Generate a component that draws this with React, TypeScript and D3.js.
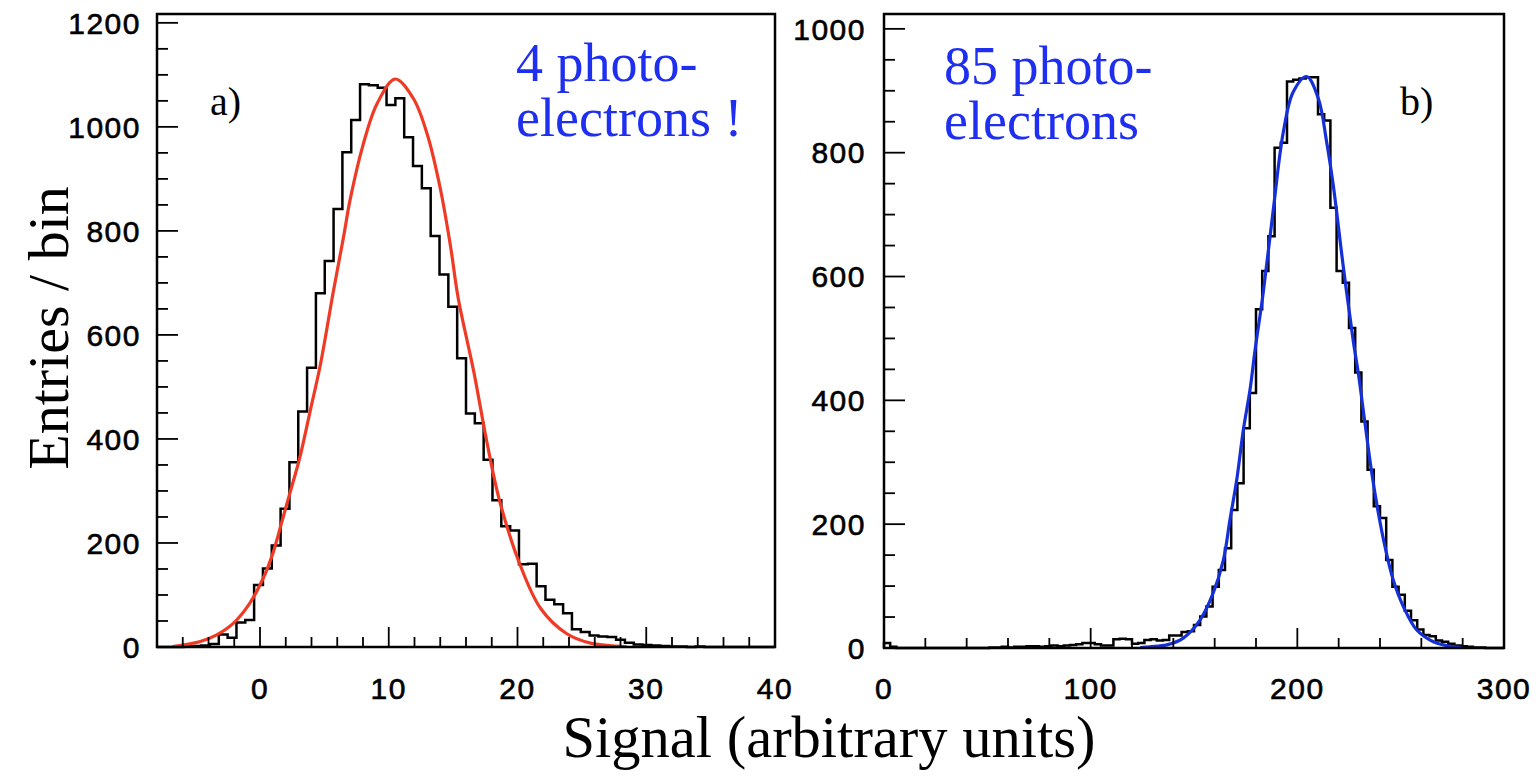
import React from "react";
import * as d3 from "d3";

// ---- Panel a): 4 photo-electrons, 70 bins from -8 to 40 ----
const binsA_range: [number, number] = [-8, 40];
const countsA = [
  0, 0, 0, 1, 2, 3, 6, 24, 18, 47,
  52, 119, 151, 195, 266, 355, 453, 537, 680, 742,
  842, 951, 1013, 1082, 1080, 1075, 1042, 1055, 980, 925,
  882, 790, 716, 654, 555, 449, 430, 360, 282, 232,
  224, 159, 160, 117, 91, 82, 65, 34, 29, 22,
  20, 19, 14, 8, 5, 4, 3, 2, 1, 1,
  0, 1, 0, 0, 0, 0, 0, 0, 0, 0,
];
// Gaussian fit (red) sampled along the curve
const fitA: [number, number][] = [
  [-6.8, 1], [-4.7, 10], [-3.4, 23], [-2.1, 45], [-0.8, 84], [0.3, 135],
  [1.0, 180], [1.8, 250], [2.6, 320], [3.1, 365], [3.9, 454], [4.7, 544],
  [5.7, 684], [6.5, 790], [7.0, 860], [8.0, 965], [9.1, 1045], [10.5, 1092],
  [11.9, 1055], [13.0, 985], [14.0, 882], [14.8, 770], [15.4, 670],
  [16.6, 530], [17.6, 397], [18.6, 282], [20.2, 158], [21.8, 74],
  [23.8, 26], [25.6, 8], [28.5, 0.5],
];
const yTicksA = [0, 200, 400, 600, 800, 1000, 1200];
const xTicksA = [0, 10, 20, 30, 40];

// ---- Panel b): 85 photo-electrons, 100 bins from 0 to 300 ----
const binsB_range: [number, number] = [0, 300];
const countsB = [
  8, 2, 0, 0, 0, 0, 0, 0, 0, 0,
  0, 0, 0, 0, 0, 0, 0, 1, 1, 2,
  1, 2, 2, 3, 3, 2, 3, 4, 3, 4,
  5, 6, 8, 8, 6, 4, 4, 14, 15, 14,
  7, 8, 13, 14, 12, 13, 20, 20, 26, 27,
  37, 51, 67, 99, 126, 161, 223, 266, 355, 412,
  547, 609, 665, 808, 816, 915, 918, 920, 922, 922,
  862, 852, 711, 609, 590, 517, 445, 366, 288, 229,
  210, 142, 99, 86, 60, 45, 30, 21, 19, 12,
  10, 7, 4, 3, 2, 1, 1, 0, 0, 0,
];
// Gaussian fit (blue) sampled along the curve
const fitB: [number, number][] = [
  [124, 0.5], [128.7, 2], [136.8, 5], [144.8, 16], [152.9, 45], [159.3, 89],
  [164.2, 142], [167.4, 207], [170.7, 272], [173.9, 353], [177.1, 417],
  [179.5, 480], [183.5, 574], [188.4, 709], [193.2, 833], [198.0, 898],
  [204.5, 923], [210.2, 887], [214.2, 817], [217.4, 747], [222.2, 617],
  [227.1, 495], [229.5, 444], [232.7, 364], [236.0, 283], [239.2, 218],
  [242.4, 164], [246.4, 110], [251.3, 67], [257.8, 29], [265.8, 10],
  [272, 4], [279.5, 0.5],
];
const yTicksB = [0, 200, 400, 600, 800, 1000];
const xTicksB = [0, 100, 200, 300];

const SANS = "'Liberation Sans', Arial, Helvetica, sans-serif";
const SERIF = "'Liberation Serif', 'Times New Roman', Times, serif";
const BLUE = "#1f2ff0";

type PanelProps = {
  left: number; right: number; top: number; bottom: number;
  xDomain: [number, number]; yMax: number;
  counts: number[]; fit: [number, number][]; fitColor: string;
  xLabels: number[]; yLabels: number[];
  xMinorStep: number; xMajorStep: number;
  yMinorStep: number; yMajorStep: number; yTickTop: number;
  labelRight: number;
};

function Panel(p: PanelProps) {
  const x = d3.scaleLinear().domain(p.xDomain).range([p.left, p.right]);
  const y = d3.scaleLinear().domain([0, p.yMax]).range([p.bottom, p.top]);
  const n = p.counts.length;
  const w = (p.xDomain[1] - p.xDomain[0]) / n;

  // Step outline of the histogram
  let hist = `M${x(p.xDomain[0])},${y(0)}`;
  p.counts.forEach((c, i) => {
    hist += `V${y(c)}H${x(p.xDomain[0] + (i + 1) * w)}`;
  });
  hist += `V${y(0)}`;

  const fitPath = d3
    .line<[number, number]>()
    .x((d) => x(d[0]))
    .y((d) => y(d[1]))
    .curve(d3.curveCatmullRom.alpha(0.5))(p.fit) as string;

  const xt: number[] = [];
  for (let v = Math.ceil((p.xDomain[0] + 1e-9) / p.xMinorStep) * p.xMinorStep; v < p.xDomain[1] - 1e-9; v += p.xMinorStep) xt.push(+v.toFixed(6));
  const yt: number[] = [];
  for (let v = p.yMinorStep; v <= p.yTickTop + 1e-9; v += p.yMinorStep) yt.push(v);

  const isMajor = (v: number, step: number) => Math.abs(v / step - Math.round(v / step)) < 1e-6;

  return (
    <g>
      <clipPath id={`clip-${p.left}`}>
        <rect x={p.left} y={p.top} width={p.right - p.left} height={p.bottom - p.top} />
      </clipPath>
      <path d={hist} fill="none" stroke="#000" strokeWidth={2.5} strokeLinejoin="miter" />
      <path d={fitPath} fill="none" stroke={p.fitColor} strokeWidth={3.2} clipPath={`url(#clip-${p.left})`} />
      {/* ticks */}
      {xt.map((v) => {
        const len = isMajor(v, p.xMajorStep) ? 20 : 10;
        return <line key={`xt${v}`} x1={x(v)} x2={x(v)} y1={p.bottom} y2={p.bottom - len} stroke="#000" strokeWidth={1.8} />;
      })}
      {yt.map((v) => {
        const len = isMajor(v, p.yMajorStep) ? 21 : 11;
        return <line key={`yt${v}`} x1={p.left} x2={p.left + len} y1={y(v)} y2={y(v)} stroke="#000" strokeWidth={1.8} />;
      })}
      {/* frame */}
      <rect x={p.left} y={p.top} width={p.right - p.left} height={p.bottom - p.top} fill="none" stroke="#000" strokeWidth={2.5} />
      {/* tick labels */}
      {p.yLabels.map((v) => (
        <text key={`yl${v}`} x={p.labelRight} y={y(v)} dy="0.36em" textAnchor="end" fontFamily={SANS} fontSize={30} letterSpacing={1.5} stroke="#000" strokeWidth={0.6}>
          {v}
        </text>
      ))}
      {p.xLabels.map((v) => (
        <text key={`xl${v}`} x={x(v)} y={699} textAnchor="middle" fontFamily={SANS} fontSize={30} letterSpacing={1.5} stroke="#000" strokeWidth={0.6}>
          {v}
        </text>
      ))}
    </g>
  );
}

export default function App() {
  return (
    <svg
      width={1536}
      height={776}
      viewBox="0 0 1536 776"
      style={{ position: "absolute", left: 0, top: 0, background: "#fff" }}
    >
      <rect x={0} y={0} width={1536} height={776} fill="#fff" />
      <Panel
        left={157} right={775} top={14} bottom={647}
        xDomain={binsA_range} yMax={1217}
        counts={countsA} fit={fitA} fitColor="#ef3b26"
        xLabels={xTicksA} yLabels={yTicksA}
        xMinorStep={2} xMajorStep={10}
        yMinorStep={50} yMajorStep={200} yTickTop={1200}
        labelRight={141}
      />
      <Panel
        left={884} right={1504} top={14} bottom={648}
        xDomain={binsB_range} yMax={1024}
        counts={countsB} fit={fitB} fitColor="#1630d8"
        xLabels={xTicksB} yLabels={yTicksB}
        xMinorStep={20} xMajorStep={100}
        yMinorStep={50} yMajorStep={200} yTickTop={1000}
        labelRight={866}
      />

      {/* panel annotations */}
      <text x={210} y={115} fontFamily={SERIF} fontSize={40}>a)</text>
      <text x={1400} y={115} fontFamily={SERIF} fontSize={40}>b)</text>
      <text fontFamily={SERIF} fontSize={54} fill={BLUE}>
        <tspan x={516} y={81}>4 photo-</tspan>
        <tspan x={516} y={136}>electrons !</tspan>
      </text>
      <text fontFamily={SERIF} fontSize={54} fill={BLUE}>
        <tspan x={944} y={84}>85 photo-</tspan>
        <tspan x={944} y={139}>electrons</tspan>
      </text>

      {/* axis titles */}
      <text transform="translate(68,328) rotate(-90)" textAnchor="middle" fontFamily={SERIF} fontSize={58}>
        Entries / bin
      </text>
      <text x={829} y={757} textAnchor="middle" fontFamily={SERIF} fontSize={58.5}>
        Signal (arbitrary units)
      </text>
    </svg>
  );
}
